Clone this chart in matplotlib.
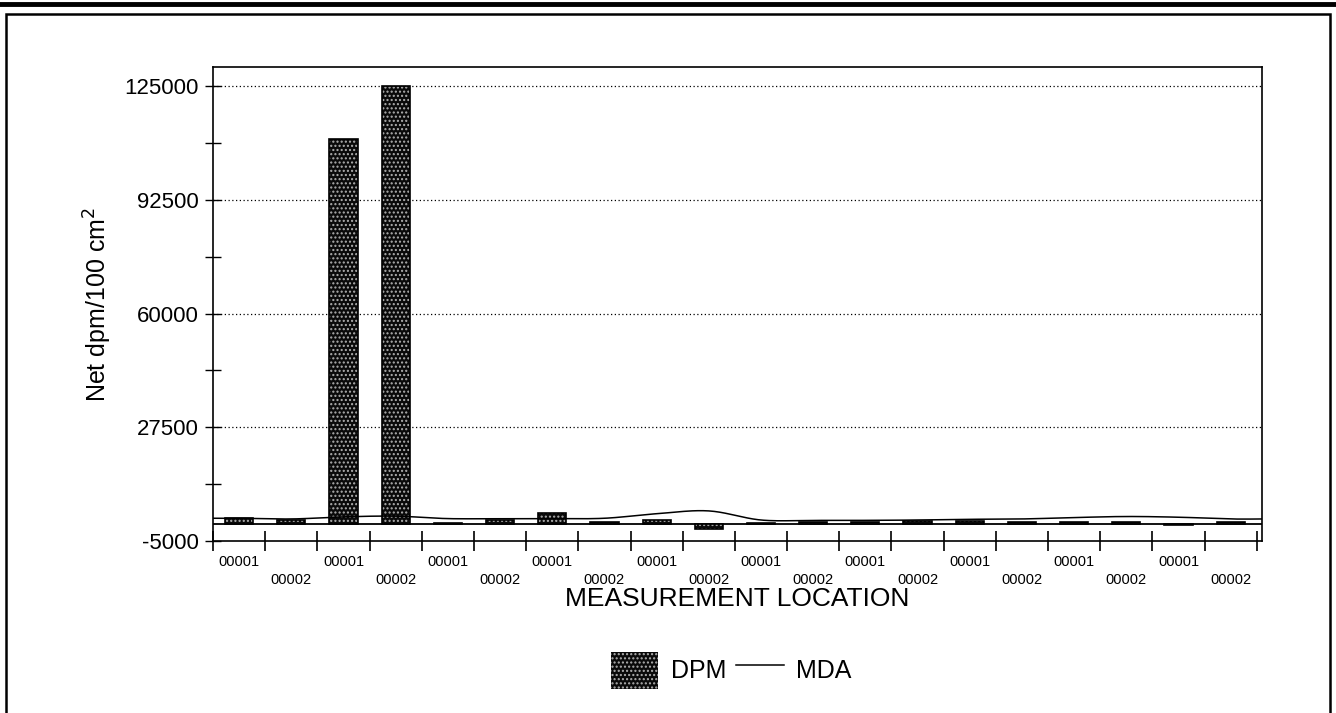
import numpy as np
import matplotlib
matplotlib.use("Agg")
import matplotlib.pyplot as plt
from matplotlib.patches import Patch, Rectangle
from matplotlib.lines import Line2D

plt.rcParams['font.family'] = ['Liberation Sans', 'DejaVu Sans']

# ---- data ----
locations = ['00001', '00002'] * 10
dpm = [1500, 900, 110000, 125000, 200, 900, 2900, 300, 900, -1500,
       200, 300, 400, 600, 700, 500, 400, 300, -300, 400]
mda = [1500, 1300, 1900, 2100, 1400, 1400, 1400, 1500, 2800, 3600,
       1000, 900, 900, 1000, 1200, 1300, 1700, 2000, 1800, 1300]
y_major = [-5000, 27500, 60000, 92500, 125000]
y_minor = [11250, 43750, 76250, 108750]

W, H = 1336, 713
fig = plt.figure(figsize=(W / 100, H / 100), dpi=100)
ax = fig.add_axes([213 / W, 1 - 541 / H, (1262 - 213) / W, (541 - 67) / H])

x = np.arange(len(dpm))

# bars: stippled dark fill
ax.bar(x, dpm, width=0.54, facecolor='#0a0a0a', edgecolor='#b0b0b0',
       hatch='....', linewidth=0, zorder=3)
ax.bar(x, dpm, width=0.54, fill=False, edgecolor='black', linewidth=1.2, zorder=4)

# MDA smooth line (Catmull-Rom through points, extended flat to edges)
xs_pts = np.concatenate(([-0.5], x, [19.6]))
ys_pts = np.concatenate(([mda[0]], mda, [mda[-1]]))
P = np.concatenate(([ys_pts[0]], ys_pts, [ys_pts[-1]]))
X = np.concatenate(([xs_pts[0]], xs_pts, [xs_pts[-1]]))
cx, cy = [], []
for i in range(1, len(P) - 2):
    t = np.linspace(0, 1, 20)
    for arr, out in ((X, cx), (P, cy)):
        p0, p1, p2, p3 = arr[i - 1], arr[i], arr[i + 1], arr[i + 2]
        out.extend(0.5 * ((2 * p1) + (-p0 + p2) * t + (2 * p0 - 5 * p1 + 4 * p2 - p3) * t ** 2
                          + (-p0 + 3 * p1 - 3 * p2 + p3) * t ** 3))
ax.plot(cx, cy, color='black', linewidth=1.1, zorder=5)

ax.axhline(0, color='black', linewidth=1.3, zorder=2)

ax.set_ylim(-5000, 130500)
ax.set_xlim(-0.5, 19.6)

ax.set_yticks(y_major)
ax.set_yticklabels([str(v) for v in y_major], fontsize=16)
ax.set_yticks(y_minor, minor=True)
for v in y_major[1:]:
    ax.axhline(v, color='black', linestyle=(0, (1, 2)), linewidth=0.9, zorder=1)

ax.set_xticks(np.arange(-0.5, 20, 1.0))
ax.set_xticklabels([])
ax.set_xticks(x, minor=True)
ax.set_xticklabels([lab if i % 2 == 0 else '\n' + lab for i, lab in enumerate(locations)],
                   minor=True, fontsize=10.5, linespacing=1.4)
ax.tick_params(axis='x', which='minor', length=0, pad=10)
ax.tick_params(axis='x', which='major', direction='inout', length=14, width=1.2)
ax.tick_params(axis='y', which='both', direction='inout', length=12, width=1.0)
ax.tick_params(axis='y', which='major', pad=4)

for s in ax.spines.values():
    s.set_linewidth(1.2)

ax.set_xlabel('MEASUREMENT LOCATION', fontsize=19, labelpad=0)
ax.set_ylabel('Net dpm/100 cm$^2$', fontsize=18, labelpad=8)

handles = [Patch(facecolor='#0a0a0a', edgecolor='#b0b0b0', hatch='....', linewidth=0),
           Line2D([], [], color='black', linewidth=1.1)]
fig.legend(handles, ['DPM', 'MDA'], loc='center', bbox_to_anchor=(731 / W, 1 - 670 / H),
           ncol=2, frameon=False, fontsize=18, handlelength=1.9, handleheight=1.9,
           handletextpad=0.5, columnspacing=0.4)

# outer page frame
fig.add_artist(Line2D([0, 1], [1 - 4 / H, 1 - 4 / H], color='black', linewidth=3.5,
                      transform=fig.transFigure))
fig.add_artist(Rectangle((6 / W, -0.05), (1330 - 6) / W, 1.05 - 14 / H, fill=False,
                         edgecolor='black', linewidth=1.8, transform=fig.transFigure))

fig.savefig('out.png', dpi=100, facecolor='white')
